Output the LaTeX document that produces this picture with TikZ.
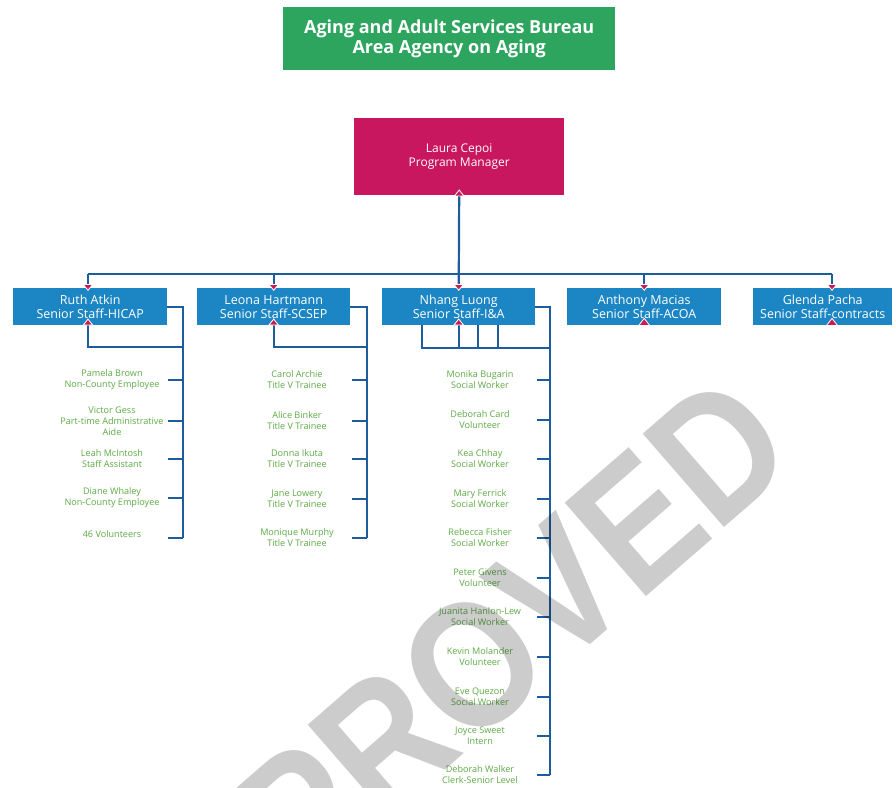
\documentclass[tikz,border=0pt]{standalone}
\usepackage{fontspec}
\setmainfont{Open Sans}
\newfontfamily\wmfont{Liberation Sans}
\usetikzlibrary{arrows.meta,calc}
\definecolor{titlegreen}{HTML}{2DA55F}
\definecolor{mgrmag}{HTML}{C8165F}
\definecolor{staffblue}{HTML}{1B86C3}
\definecolor{linec}{HTML}{1E5C9C}
\definecolor{tipmag}{HTML}{C81E55}
\definecolor{subgreen}{HTML}{5DAA45}
\tikzset{
  tipx/.tip={Triangle[length=7pt,width=11pt,color=white,fill=tipmag,line width=0.8pt]},
  conn/.style={draw=linec, line width=2.2pt},
  titlebox/.style={fill=titlegreen, text=white, font=\bfseries\fontsize{18}{20}\selectfont, align=center, inner sep=0pt, minimum width=332pt, minimum height=63pt, anchor=north west},
  mgrbox/.style={fill=mgrmag, text=white, font=\fontsize{12}{13.5}\selectfont, align=center, inner sep=0pt, minimum width=210pt, minimum height=77pt, anchor=north west},
  staffbox/.style={fill=staffblue, text=white, font=\fontsize{12.5}{14}\selectfont, align=center, inner sep=0pt, minimum height=37pt, anchor=north west},
  subtext/.style={text=subgreen, font=\fontsize{9.1}{11}\selectfont, align=center, inner sep=0pt},
  tick/.style={conn},
}
\begin{document}
\begin{tikzpicture}[x=1pt,y=-1pt]
\useasboundingbox (0,0) rectangle (896,787);
\fill[white] (0,0) rectangle (896,787);

% title and manager
\node[titlebox] (title) at (283,7) {Aging and Adult Services Bureau\\Area Agency on Aging};
\node[mgrbox] (mgr) at (354,118) {Laura Cepoi\\Program Manager};

% senior staff
\node[staffbox, minimum width=154pt] (s1) at (13,288) {Ruth Atkin\\Senior Staff-HICAP};
\node[staffbox, minimum width=153pt] (s2) at (197,288) {Leona Hartmann\\Senior Staff-SCSEP};
\node[staffbox, minimum width=153pt] (s3) at (382,288) {Nhang Luong\\Senior Staff-I\&A};
\node[staffbox, minimum width=154pt] (s4) at (567,288) {Anthony Macias\\Senior Staff-ACOA};
\node[staffbox, minimum width=139pt] (s5) at (753,288) {Glenda Pacha\\Senior Staff-contracts};

% bus
\coordinate (bL) at (88,274);
\coordinate (bR) at (832,274);
\draw[conn] (bL) -- (bR);
\draw[conn, {tipx}-{tipx}, shorten <=-6pt, shorten >=-3pt] (mgr.south) -- (s3.north);
\draw[conn, -{tipx}, shorten >=-3pt] (bL) -- (bL |- s1.north);
\draw[conn, -{tipx}, shorten >=-3pt] (bL -| s2.north) -- (s2.north);
\draw[conn, -{tipx}, shorten >=-3pt] (bL -| s4.north) -- (s4.north);
\draw[conn, -{tipx}, shorten >=-3pt] (bR) -- (bR |- s5.north);

% Ruth Atkin group
\coordinate (r1) at (183,347);
\draw[conn] (s1.east) -| (183,538);
\draw[conn, {tipx}-, shorten <=-7pt] (bL |- s1.south) |- (r1);
\foreach \y/\t in {380/{Pamela Brown\\Non-County Employee},
                   421/{Victor Gess\\Part-time Administrative\\Aide},
                   459/{Leah McIntosh\\Staff Assistant},
                   498/{Diane Whaley\\Non-County Employee},
                   534/{46 Volunteers}}{
  \node[subtext] (ra\y) at (112,\y) {\t};
}
\foreach \y in {380,421,459,498,538}{
  \draw[tick] (168,\y) -- (183,\y);
}

% Leona Hartmann group
\coordinate (l1) at (367,347);
\draw[conn] (s2.east) -| (367,538);
\draw[conn, {tipx}-, shorten <=-7pt] (s2.south) |- (l1);
\foreach \y/\t in {380/{Carol Archie},
                   421/{Alice Binker},
                   459/{Donna Ikuta},
                   499/{Jane Lowery},
                   538/{Monique Murphy}}{
  \node[subtext] (lh\y) at (297,\y) {\t\\Title V Trainee};
  \draw[tick] (352,\y) -- (367,\y);
}

% Nhang Luong group
\coordinate (n1) at (550,348);
\draw[conn] (s3.east) -| (550,775);
\draw[conn] (422,325) |- (n1);
\draw[conn, {tipx}-, shorten <=-7pt] (s3.south) -- (s3.south |- n1);
\draw[conn] (478,325) -- (478,348);
\draw[conn] (498,325) -- (498,348);
\foreach \y/\t in {380/{Monika Bugarin\\Social Worker},
                   420/{Deborah Card\\Volunteer},
                   459/{Kea Chhay\\Social Worker},
                   499/{Mary Ferrick\\Social Worker},
                   538/{Rebecca Fisher\\Social Worker},
                   578/{Peter Givens\\Volunteer},
                   617/{Juanita Hanlon-Lew\\Social Worker},
                   657/{Kevin Molander\\Volunteer},
                   697/{Eve Quezon\\Social Worker},
                   736/{Joyce Sweet\\Intern},
                   775/{Deborah Walker\\Clerk-Senior Level}}{
  \node[subtext] (nl\y) at (480,\y) {\t};
  \draw[tick] (537,\y) -- (550,\y);
}

% lone tips under Anthony Macias and Glenda Pacha
\filldraw[fill=tipmag, draw=white, line width=0.8pt] ($(s4.south)+(-5.5,0)$) -- ($(s4.south)+(5.5,0)$) -- ($(s4.south)+(0,-7)$) -- cycle;
\filldraw[fill=tipmag, draw=white, line width=0.8pt] ($(bR |- s5.south)+(-5.5,0)$) -- ($(bR |- s5.south)+(5.5,0)$) -- ($(bR |- s5.south)+(0,-7)$) -- cycle;

% watermark
\node[rotate=41, xscale=0.87, text=black, text opacity=0.2, font=\wmfont\bfseries\fontsize{180}{180}\selectfont, inner sep=0pt] (wm) at (430,702) {APPROVED};
\end{tikzpicture}
\end{document}
